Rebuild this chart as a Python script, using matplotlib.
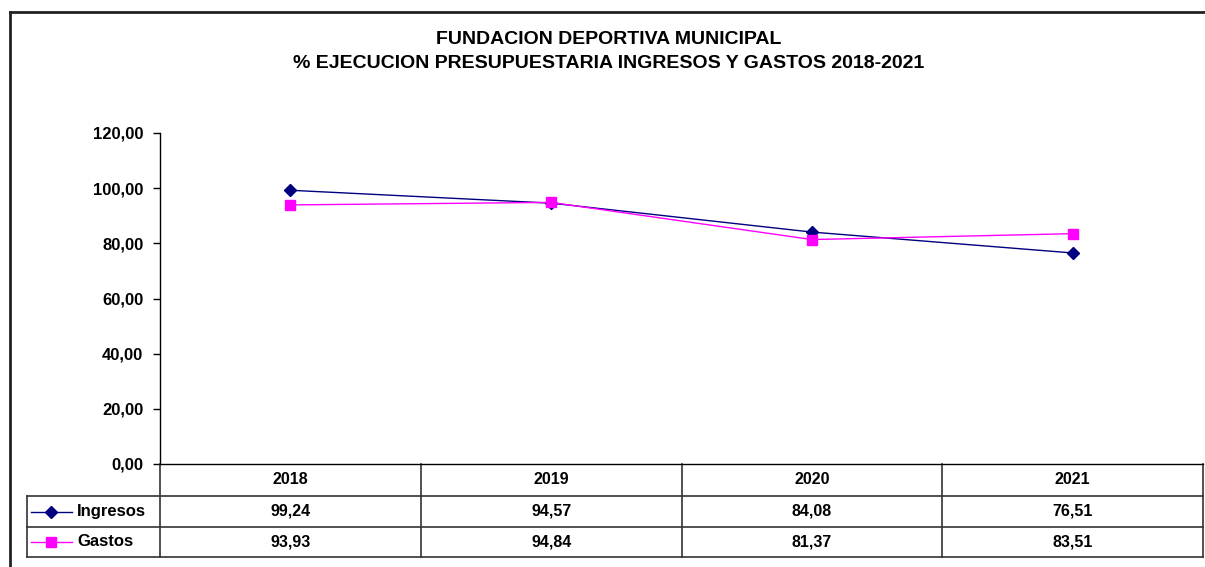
import numpy as np
import matplotlib
matplotlib.use('Agg')
import matplotlib.pyplot as plt
import matplotlib.transforms as mtransforms
from matplotlib.lines import Line2D

plt.rcParams['font.family'] = ['Liberation Sans', 'DejaVu Sans']
plt.rcParams['font.weight'] = 'bold'

years = ['2018', '2019', '2020', '2021']
ingresos = [99.24, 94.57, 84.08, 76.51]
gastos = [93.93, 94.84, 81.37, 83.51]
series = [('Ingresos', ingresos, '#000080', 'D', 6), ('Gastos', gastos, '#FF00FF', 's', 6.5)]

W, H = 1205, 567

def fmt(v):
    return ('%.2f' % v).replace('.', ',')

fig = plt.figure(figsize=(W / 100, H / 100), dpi=100)

# pixel overlay for frame and data table
ov = fig.add_axes([0, 0, 1, 1])
ov.set_xlim(0, W)
ov.set_ylim(H, 0)
ov.axis('off')

# main plot
ax = fig.add_axes([160 / W, (H - 464) / H, (1203 - 160) / W, (464 - 133) / H])
ax.set_facecolor('none')
x = np.arange(len(years))
for name, vals, col, mk, ms in series:
    ax.plot(x, vals, color=col, lw=1, marker=mk, ms=ms, mec=col, mfc=col)
ax.set_xlim(-0.5, len(years) - 0.5)
ax.set_ylim(0, 120)
ax.set_yticks(np.arange(0, 121, 20))
ax.set_yticklabels([fmt(v) for v in np.arange(0, 121, 20)], fontsize=12, fontweight='bold')
ax.tick_params(axis='y', direction='out', length=5, width=1, pad=7)
ax.set_xticks([])
for s in ['top', 'right']:
    ax.spines[s].set_visible(False)
ax.spines['left'].set_linewidth(1)
ax.spines['bottom'].set_linewidth(1)

# title
ov.text(609, 39, 'FUNDACION DEPORTIVA MUNICIPAL', ha='center', va='center', fontsize=14, fontweight='bold')
ov.text(609, 63, '% EJECUCION PRESUPUESTARIA INGRESOS Y GASTOS 2018-2021', ha='center', va='center',
        fontsize=14, fontweight='bold')

# outer frame
ov.plot([10, 10], [H, 12], color='#222222', lw=2)
ov.plot([10, W], [12, 12], color='#222222', lw=2)

# data table
tr = mtransforms.blended_transform_factory(ax.transData, ov.transData)
rows_y = [464, 496, 527, 557]
lc = '#333333'
for yy in rows_y[1:]:
    ov.plot([27, 1203], [yy, yy], color=lc, lw=1.2)
ov.plot([27, 27], [496, 557], color=lc, lw=1.2)
for b in np.arange(len(years) + 1) - 0.5:
    ax.plot([b, b], [464, 557], color=lc, lw=1.2, transform=tr, clip_on=False)

for i, yr in enumerate(years):
    ax.text(i, 480, yr, ha='center', va='center', fontsize=11.5, fontweight='bold', transform=tr)
for r, (name, vals, col, mk, ms) in enumerate(series):
    cy = (rows_y[r + 1] + rows_y[r + 2]) / 2
    for i, v in enumerate(vals):
        ax.text(i, cy, fmt(v), ha='center', va='center', fontsize=11.5, fontweight='bold', transform=tr)
    ov.add_line(Line2D([31, 72], [cy, cy], color=col, lw=1))
    ov.add_line(Line2D([51], [cy], color=col, marker=mk, ms=ms, mfc=col, mec=col))
    ov.text(77, cy, name, ha='left', va='center', fontsize=12, fontweight='bold')

fig.savefig('out.png', dpi=100)
